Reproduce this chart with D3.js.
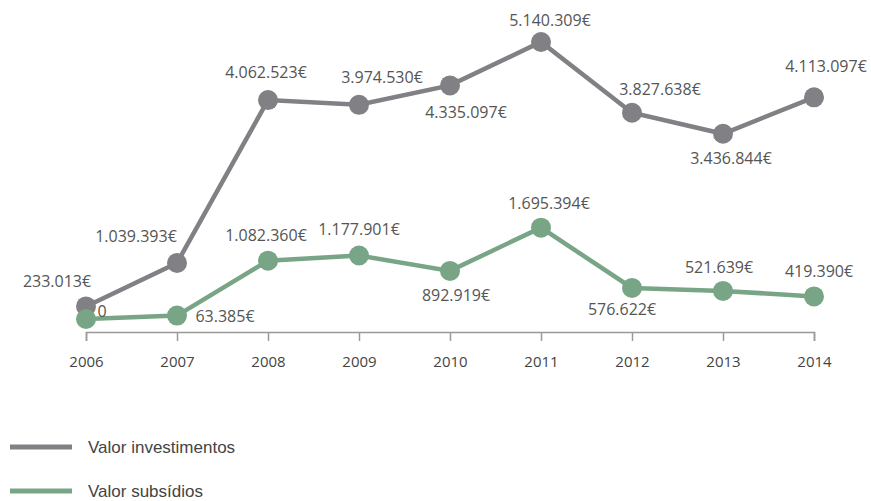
<!DOCTYPE html>
<html>
<head>
<meta charset="utf-8">
<script src="https://cdn.jsdelivr.net/npm/d3@7"></script>
<style>
  body { margin: 0; background: #fff; }
  svg text { font-family: "Open Sans", sans-serif; }
</style>
</head>
<body>
<svg id="chart" width="871" height="501"></svg>
<script>
var years = ["2006", "2007", "2008", "2009", "2010", "2011", "2012", "2013", "2014"];
var investimentos = [233013, 1039393, 4062523, 3974530, 4335097, 5140309, 3827638, 3436844, 4113097];
var subsidios = [0, 63385, 1082360, 1177901, 892919, 1695394, 576622, 521639, 419390];
var seriesNames = ["Valor investimentos", "Valor subsídios"];

// label offsets from each point (text centre)
var invLabelOff = [[-29, -25], [-41, -27], [-2, -28], [23, -28], [16, 27], [9, -22], [28, -24], [8, 24], [12, -31]];
var subLabelOff = [[16, -8], [48, 0], [-2, -26], [0, -27], [6, 24], [8, -25], [-10, 21], [-4, -24], [5, -25]];

var colors = ["#808085", "#78a585"];

var svg = d3.select("#chart");

var x = d3.scalePoint().domain(years).range([86, 814]);
var y = d3.scaleLinear().domain([0, d3.max(investimentos)]).range([319, 42]);

// euro format with dots as thousands separator
var fmt = function(v) {
    if (v === 0) return "0";
    return d3.format(",")(v).replace(/,/g, ".") + "€";
};

// x axis
var axis = svg.append("g")
    .attr("transform", "translate(0,332)")
    .call(d3.axisBottom(x).tickSize(9).tickPadding(15));
axis.select(".domain").attr("stroke", "#999").attr("stroke-width", 1.5);
axis.selectAll(".tick line").attr("stroke", "#999").attr("stroke-width", 1.5);
axis.selectAll(".tick text")
    .attr("fill", "#444")
    .attr("font-size", 15)
    .style("font-size", "15px")
    .style("font-family", "'Open Sans', sans-serif");

var line = d3.line()
    .x(function(d, i) { return x(years[i]); })
    .y(function(d) { return y(d); });

function drawSeries(values, color, offsets) {
    var g = svg.append("g");
    g.append("path").datum(values)
        .attr("d", line)
        .attr("fill", "none")
        .attr("stroke", color)
        .attr("stroke-width", 4.5);
    g.selectAll("circle").data(values).enter().append("circle")
        .attr("cx", function(d, i) { return x(years[i]); })
        .attr("cy", function(d) { return y(d); })
        .attr("r", 10)
        .attr("fill", color);
    g.selectAll("text").data(values).enter().append("text")
        .attr("x", function(d, i) { return x(years[i]) + offsets[i][0]; })
        .attr("y", function(d, i) { return y(d) + offsets[i][1]; })
        .attr("text-anchor", "middle")
        .attr("dominant-baseline", "central")
        .attr("fill", "#555")
        .style("font-size", "16px")
        .text(fmt);
}

drawSeries(investimentos, colors[0], invLabelOff);
drawSeries(subsidios, colors[1], subLabelOff);

// legend
var legend = svg.append("g");
seriesNames.forEach(function(name, i) {
    var ly = 447 + i * 44;
    legend.append("line")
        .attr("x1", 10).attr("x2", 72)
        .attr("y1", ly).attr("y2", ly)
        .attr("stroke", colors[i])
        .attr("stroke-width", 5);
    legend.append("text")
        .attr("x", 88).attr("y", ly)
        .attr("dominant-baseline", "central")
        .attr("fill", "#444")
        .style("font-family", "'Liberation Sans', Arial, sans-serif")
        .style("font-size", "17px")
        .text(name);
});
</script>
</body>
</html>
